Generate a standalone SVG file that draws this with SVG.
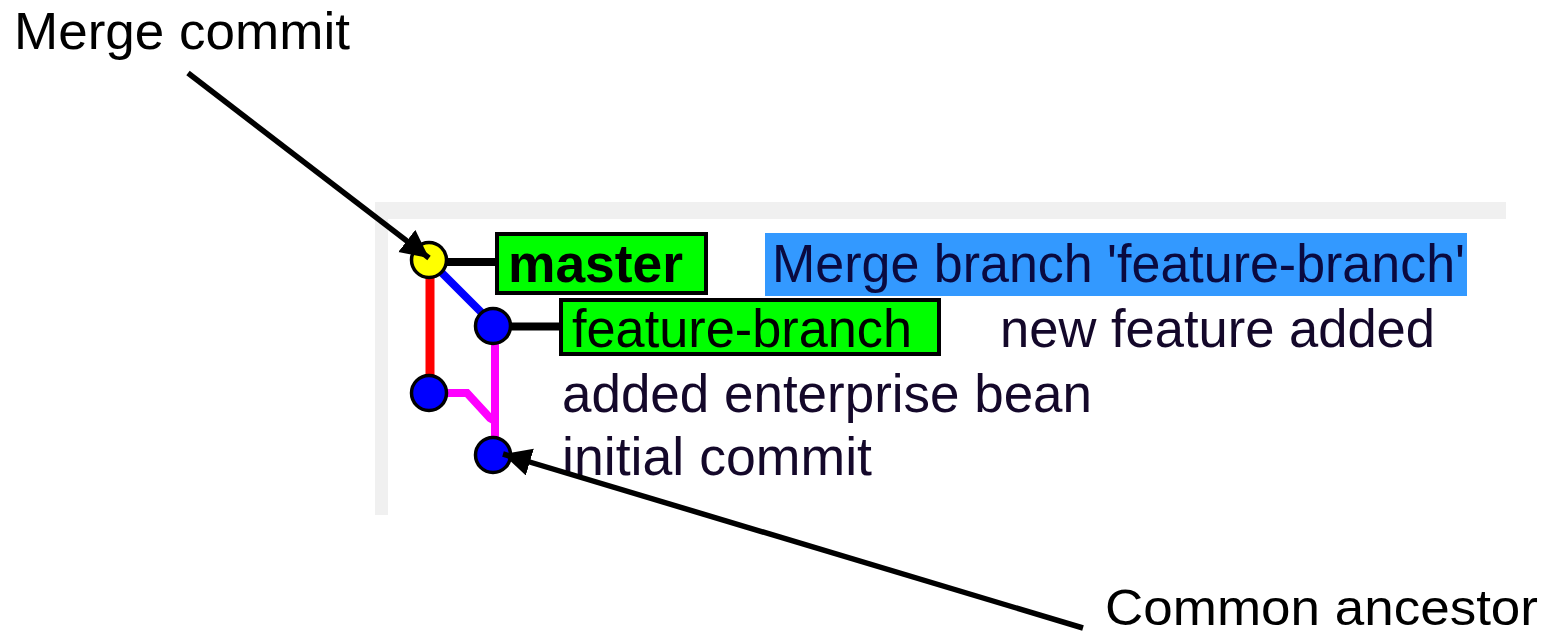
<svg xmlns="http://www.w3.org/2000/svg" width="1544" height="636" viewBox="0 0 1544 636">
<style>
.txt{font-family:"Liberation Sans",Arial,sans-serif;font-size:53px;fill:#14082a}
.ann{font-family:"Liberation Sans",Arial,sans-serif;font-size:52px;fill:#000}
.ref{fill:#00ff00;stroke:#000;stroke-width:4}
.node{stroke:#000;stroke-width:3.5}
.edge{fill:none;stroke-linecap:butt}
.arrow{fill:none;stroke:#000;stroke-width:5.5}
</style>
<defs>
<marker id="ah" markerUnits="userSpaceOnUse" markerWidth="32" markerHeight="30" refX="28" refY="14" orient="auto">
<path d="M0,0 L28,14 L0,28 z" fill="#000"/>
</marker>
</defs>
<rect x="0" y="0" width="1544" height="636" fill="#fff"/>
<g id="panel">
<rect x="375" y="202" width="1131" height="17" fill="#f0f0f0"/>
<rect x="375" y="202" width="13" height="313" fill="#f0f0f0"/>
</g>
<g id="connectors">
<line class="edge" x1="430" y1="275" x2="430" y2="376" stroke="#ff0000" stroke-width="9"/>
<line class="edge" x1="441" y1="272" x2="484" y2="315" stroke="#0000ff" stroke-width="8"/>
<line class="edge" x1="495" y1="342" x2="495" y2="438" stroke="#ff00ff" stroke-width="8"/>
<polyline class="edge" points="446,393 467,393 490,418 495,421" stroke="#ff00ff" stroke-width="8"/>
<line class="edge" x1="446" y1="262" x2="497" y2="262" stroke="#000" stroke-width="8"/>
<line class="edge" x1="510" y1="326.5" x2="561" y2="326.5" stroke="#000" stroke-width="8"/>
</g>
<g id="commit-merge">
<circle class="node" cx="429" cy="260" r="17.5" fill="#ffff00"/>
<rect class="ref" x="497" y="234" width="209" height="59"/>
<text x="508" y="282" class="txt" style="font-weight:bold;fill:#000" textLength="175" lengthAdjust="spacingAndGlyphs">master</text>
<rect x="765" y="233" width="702" height="63" fill="#3399ff"/>
<text x="772" y="282" class="txt" style="fill:#0a0a40" textLength="693" lengthAdjust="spacingAndGlyphs">Merge branch 'feature-branch'</text>
</g>
<g id="commit-feature">
<circle class="node" cx="493" cy="326" r="17.5" fill="#0000ff"/>
<rect class="ref" x="561" y="300" width="378" height="54"/>
<text x="572" y="347" class="txt" style="fill:#000" textLength="340" lengthAdjust="spacingAndGlyphs">feature-branch</text>
<text x="1000" y="347" class="txt" textLength="435" lengthAdjust="spacingAndGlyphs">new feature added</text>
</g>
<g id="commit-bean">
<circle class="node" cx="429" cy="393" r="17.5" fill="#0000ff"/>
<text x="562" y="412" class="txt" textLength="530" lengthAdjust="spacingAndGlyphs">added enterprise bean</text>
</g>
<g id="commit-initial">
<circle class="node" cx="493" cy="455" r="17.5" fill="#0000ff"/>
<text x="562" y="475" class="txt" textLength="310" lengthAdjust="spacingAndGlyphs">initial commit</text>
</g>
<g id="annotation-merge">
<text x="14" y="49" class="ann" textLength="336" lengthAdjust="spacingAndGlyphs">Merge commit</text>
<line class="arrow" x1="188" y1="73" x2="429" y2="258" marker-end="url(#ah)"/>
</g>
<g id="annotation-ancestor">
<text x="1105" y="625" class="ann" style="font-size:50px" textLength="433" lengthAdjust="spacingAndGlyphs">Common ancestor</text>
<line class="arrow" x1="1083" y1="628" x2="503" y2="454" marker-end="url(#ah)"/>
</g>
</svg>
